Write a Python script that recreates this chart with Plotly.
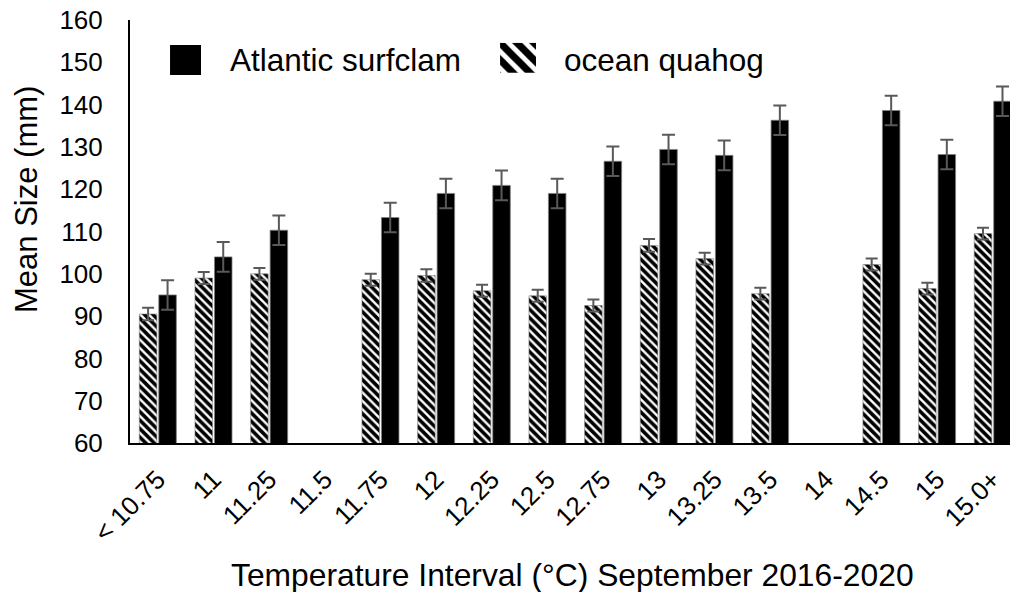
import plotly.graph_objects as go

# Temperature intervals (°C), September 2016-2020
categories = ["< 10.75", "11", "11.25", "11.5", "11.75", "12", "12.25", "12.5",
              "12.75", "13", "13.25", "13.5", "14", "14.5", "15", "15.0+"]

# Mean shell size (mm) and standard error per interval
quahog_mean = [90.5, 99.0, 100.0, None, 98.6, 99.6, 96.0, 94.8,
               92.5, 106.7, 103.6, 95.3, None, 102.2, 96.5, 109.5]
quahog_err = [1.5, 1.4, 1.4, None, 1.4, 1.5, 1.4, 1.4,
              1.4, 1.5, 1.4, 1.4, None, 1.4, 1.4, 1.4]

surfclam_mean = [95.0, 104.0, 110.3, None, 113.3, 119.0, 120.9, 119.0,
                 126.6, 129.4, 128.0, 136.3, None, 138.6, 128.2, 140.8]
surfclam_err = [3.5, 3.5, 3.5, None, 3.5, 3.5, 3.5, 3.5,
                3.5, 3.5, 3.5, 3.5, None, 3.5, 3.5, 3.5]

FONT = "Liberation Sans, Arial, sans-serif"
ERR_COLOR = "#595959"
EDGE = "#808080"

fig = go.Figure()

fig.add_trace(go.Bar(
    name="ocean quahog", x=categories, y=quahog_mean,
    marker=dict(color="white", line=dict(color=EDGE, width=0.6),
                pattern=dict(shape="\\", fgcolor="black", bgcolor="white",
                             fgopacity=1, size=6, solidity=0.6,
                             fillmode="replace")),
    error_y=dict(type="data", array=quahog_err, visible=True,
                 color=ERR_COLOR, thickness=2, width=6),
    showlegend=False,
))
fig.add_trace(go.Bar(
    name="Atlantic surfclam", x=categories, y=surfclam_mean,
    marker=dict(color="black", line=dict(color=EDGE, width=0.8)),
    error_y=dict(type="data", array=surfclam_err, visible=True,
                 color=ERR_COLOR, thickness=2, width=6.5),
    showlegend=False,
))

# Legend swatches, each drawn as a single bar on its own small hidden axes
fig.add_trace(go.Bar(x=[0], y=[1], width=[1], xaxis="x2", yaxis="y2",
                     marker=dict(color="black", line=dict(width=0)),
                     showlegend=False, hoverinfo="skip"))
fig.add_trace(go.Bar(x=[0], y=[1], width=[1], xaxis="x3", yaxis="y3",
                     marker=dict(color="white", line=dict(width=0),
                                 pattern=dict(shape="\\", fgcolor="black",
                                              bgcolor="white", fgopacity=1,
                                              size=12, solidity=0.6,
                                              fillmode="replace")),
                     showlegend=False, hoverinfo="skip"))

hidden = dict(visible=False, fixedrange=True)

fig.update_layout(
    width=1010, height=592,
    margin=dict(l=130, r=0, t=20, b=149),
    paper_bgcolor="white", plot_bgcolor="white",
    barmode="group", bargap=0.30, bargroupgap=0.10,
    font=dict(family=FONT, color="black"),
    xaxis=dict(
        type="category", range=[-0.5, 15.31],
        showline=True, linecolor="black", linewidth=2,
        showgrid=False, zeroline=False, ticks="",
        tickangle=-45, tickfont=dict(size=26, family=FONT),
        ticklabelstandoff=9,
    ),
    yaxis=dict(
        range=[60, 160], dtick=10, tick0=60,
        showline=True, linecolor="black", linewidth=2,
        showgrid=False, zeroline=False, ticks="",
        tickfont=dict(size=26, family=FONT),
        ticklabelstandoff=20,
    ),
    xaxis2=dict(domain=[0.0455, 0.0807], range=[-0.5, 0.5], anchor="y2", **hidden),
    yaxis2=dict(domain=[0.870, 0.941], range=[0, 1], anchor="x2", **hidden),
    xaxis3=dict(domain=[0.4205, 0.4614], range=[-0.5, 0.5], anchor="y3", **hidden),
    yaxis3=dict(domain=[0.875, 0.946], range=[0, 1], anchor="x3", **hidden),
    annotations=[
        dict(text="Atlantic surfclam", xref="paper", yref="paper",
             x=(228 - 130) / 880, y=0.9054, xanchor="left", yanchor="middle",
             showarrow=False, font=dict(size=31.5, family=FONT)),
        dict(text="ocean quahog", xref="paper", yref="paper",
             x=(562 - 130) / 880, y=0.9054, xanchor="left", yanchor="middle",
             showarrow=False, font=dict(size=31.5, family=FONT)),
        dict(text="Mean Size (mm)", xref="paper", yref="paper",
             x=(27 - 130) / 880, y=(443 - 200) / 423, textangle=-90,
             xanchor="center", yanchor="middle",
             showarrow=False, font=dict(size=31, family=FONT)),
        dict(text="Temperature Interval (°C) September 2016-2020",
             xref="paper", yref="paper",
             x=(572 - 130) / 880, y=(443 - 575) / 423,
             xanchor="center", yanchor="middle",
             showarrow=False, font=dict(size=31.8, family=FONT)),
    ],
)

fig.write_html("out.html")
